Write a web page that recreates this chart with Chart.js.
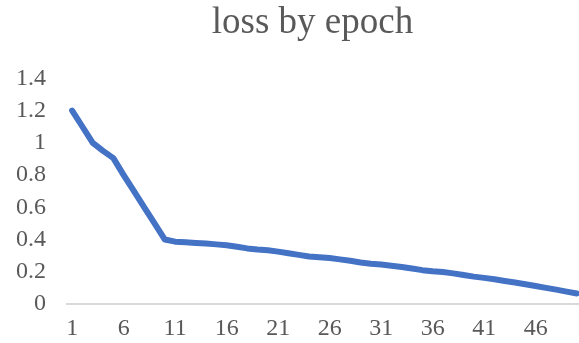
<!DOCTYPE html>
<html>
<head>
<meta charset="utf-8">
<script src="https://cdn.jsdelivr.net/npm/chart.js@4"></script>
<style>
  html, body { margin: 0; padding: 0; background: #fff; overflow: hidden; }
  #wrap { width: 625px; height: 343px; }
</style>
</head>
<body>
<div id="wrap"><canvas id="lossChart"></canvas></div>
<script>
const epochs = [1,2,3,4,5,6,7,8,9,10,11,12,13,14,15,16,17,18,19,20,21,22,23,24,25,
  26,27,28,29,30,31,32,33,34,35,36,37,38,39,40,41,42,43,44,45,46,47,48,49,50];
const loss = [1.2, 1.1, 1.0, 0.95, 0.905, 0.8, 0.7, 0.6, 0.5, 0.4,
  0.387, 0.383, 0.379, 0.375, 0.37, 0.364, 0.355, 0.345, 0.338, 0.333,
  0.325, 0.315, 0.305, 0.295, 0.29, 0.285, 0.277, 0.268, 0.258, 0.25,
  0.245, 0.238, 0.23, 0.22, 0.21, 0.203, 0.198, 0.19, 0.18, 0.17,
  0.162, 0.153, 0.143, 0.133, 0.123, 0.112, 0.1, 0.089, 0.077, 0.065];
const xTickLabels = ['1', '6', '11', '16', '21', '26', '31', '36', '41', '46'];

const textColor = '#595959';
const serif = "'Liberation Serif', 'Times New Roman', serif";

const ctx = document.getElementById('lossChart').getContext('2d');
new Chart(ctx, {
  type: 'line',
  data: {
    labels: epochs.map(String),
    datasets: [{
      label: 'loss',
      data: loss,
      borderColor: '#4472C4',
      borderWidth: 6,
      pointRadius: 0,
      tension: 0,
      borderJoinStyle: 'round',
      borderCapStyle: 'round',
      fill: false
    }]
  },
  options: {
    responsive: true,
    maintainAspectRatio: false,
    animation: false,
    layout: { padding: 0 },
    plugins: {
      legend: { display: false },
      tooltip: { enabled: false },
      title: {
        display: true,
        text: 'loss by epoch',
        color: textColor,
        font: { family: serif, size: 37, weight: 'normal' },
        padding: { top: 1, bottom: 33 }
      }
    },
    scales: {
      x: {
        offset: true,
        grid: { display: false, drawTicks: false },
        border: { display: true, color: '#d9d9d9', width: 2 },
        afterFit: scale => { scale.height = 39; },
        ticks: {
          autoSkip: false,
          maxRotation: 0,
          color: textColor,
          padding: 10,
          font: { family: serif, size: 24 },
          callback: function(value) {
            const lab = this.getLabelForValue(value);
            return xTickLabels.includes(lab) ? lab : '';
          }
        }
      },
      y: {
        min: 0,
        max: 1.4,
        grid: { display: false, drawTicks: false },
        border: { display: false },
        afterFit: scale => { scale.width = 67; },
        ticks: {
          stepSize: 0.2,
          autoSkip: false,
          color: textColor,
          padding: 21,
          font: { family: serif, size: 24 },
          callback: value => String(parseFloat(value.toFixed(1)))
        }
      },
      // empty right-hand axis: reserves room past the crop so the title stays centred
      spacer: {
        type: 'linear',
        position: 'right',
        grid: { display: false, drawTicks: false },
        border: { display: false },
        ticks: { display: false },
        afterFit: scale => { scale.width = 43; }
      }
    }
  }
});
</script>
</body>
</html>
